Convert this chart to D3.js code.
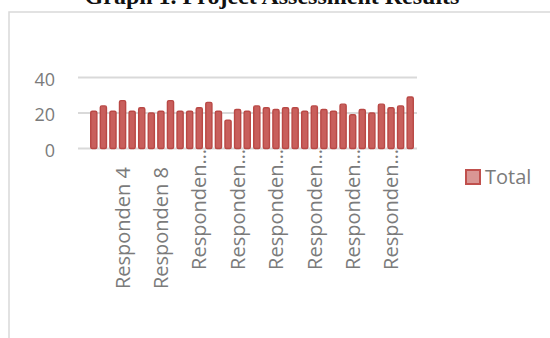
<!DOCTYPE html>
<html>
<head>
<meta charset="utf-8">
<script src="https://cdn.jsdelivr.net/npm/d3@7"></script>
<style>
  body { margin: 0; background: #fff; }
  svg text { font-family: "Open Sans", sans-serif; fill: #7b7b7b; }
</style>
</head>
<body>
<div id="chart"></div>
<script>
var width = 550, height = 338;

// data
var respondents = d3.range(1, 35).map(function(i) { return "Responden " + i; });
var totals = [21, 24, 21, 27, 21, 23, 20, 21, 27, 21, 21, 23, 26, 21, 16, 22, 21,
              24, 23, 22, 23, 23, 21, 24, 22, 21, 25, 19, 22, 20, 25, 23, 24, 29];
var yTicks = [0, 20, 40];
var shownLabels = ["Responden 4", "Responden 8", "Responden 12", "Responden 16",
                   "Responden 20", "Responden 24", "Responden 28", "Responden 32"];
var titleText = "Graph 1. Project Assessment Results";
var seriesName = "Total";

var svg = d3.select("#chart").append("svg")
    .attr("width", width)
    .attr("height", height);

// chart frame (cut off on the right and bottom)
svg.append("rect")
    .attr("x", 9).attr("y", 12)
    .attr("width", 560).attr("height", 340)
    .attr("fill", "none")
    .attr("stroke", "#d9d9d9")
    .attr("stroke-width", 1.5);

// title sits mostly above the page edge, as in the original
svg.append("text")
    .attr("x", 272).attr("y", 4)
    .attr("text-anchor", "middle")
    .style("font-family", "'Liberation Serif', serif")
    .style("font-weight", "bold")
    .style("font-size", "24px")
    .style("fill", "#111")
    .text(titleText);

var x = d3.scaleBand()
    .domain(respondents)
    .range([89, 415])
    .paddingInner(0.36)
    .paddingOuter(0.18);

var y = d3.scaleLinear()
    .domain([0, 40])
    .range([148.5, 77.5]);

// gridlines
svg.selectAll(".grid")
    .data(yTicks)
    .enter().append("line")
    .attr("class", "grid")
    .attr("x1", 78).attr("x2", 417)
    .attr("y1", function(d) { return y(d); })
    .attr("y2", function(d) { return y(d); })
    .attr("stroke", "#d9d9d9")
    .attr("stroke-width", 2);

svg.selectAll(".yLabel")
    .data(yTicks)
    .enter().append("text")
    .attr("class", "yLabel")
    .attr("x", 55)
    .attr("y", function(d) { return y(d); })
    .attr("dy", "0.45em")
    .style("text-anchor", "end")
    .style("font-size", "18px")
    .text(function(d) { return d; });

svg.selectAll(".bar")
    .data(totals)
    .enter().append("rect")
    .attr("class", "bar")
    .attr("x", function(d, i) { return x(respondents[i]); })
    .attr("y", function(d) { return y(d); })
    .attr("width", x.bandwidth())
    .attr("height", function(d) { return y(0) - y(d); })
    .attr("rx", 1.5)
    .attr("fill", "#c85f5c")
    .attr("stroke", "#b94845")
    .attr("stroke-width", 1.4);

// category labels, only every 4th shown; long ones get cut with an ellipsis
svg.selectAll(".xLabel")
    .data(shownLabels)
    .enter().append("text")
    .attr("class", "xLabel")
    .attr("transform", function(d) {
        var cut = d.length > 11;
        var cx = x(d) + x.bandwidth() / 2;
        return "translate(" + cx + "," + (cut ? 149 : 167) + ") rotate(-90)";
    })
    .attr("dy", "0.36em")
    .style("text-anchor", "end")
    .style("font-size", "20px")
    .text(function(d) { return d.length > 11 ? "Responden\u2026" : d; });

// legend
svg.append("rect")
    .attr("x", 466).attr("y", 170)
    .attr("width", 14).attr("height", 14)
    .attr("fill", "#d99694")
    .attr("stroke", "#c0504d")
    .attr("stroke-width", 2);

svg.append("text")
    .attr("x", 485).attr("y", 184)
    .style("font-size", "20px")
    .text(seriesName);
</script>
</body>
</html>
